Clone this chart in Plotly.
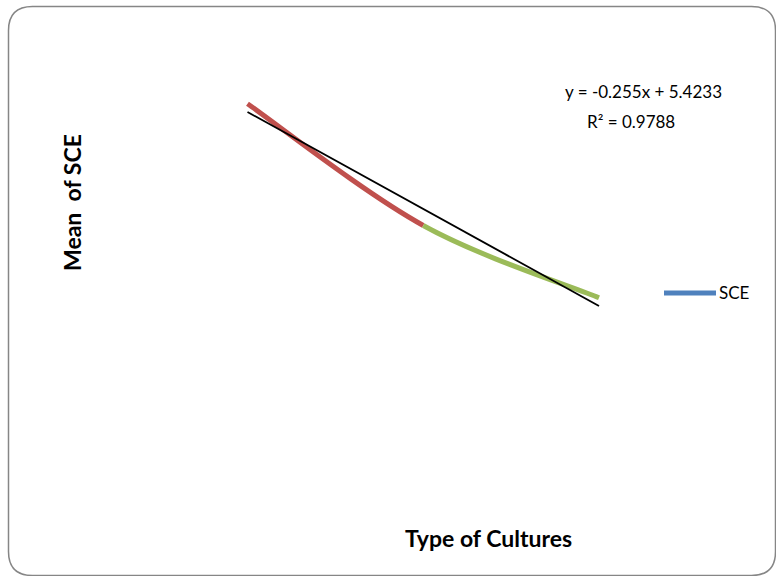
import numpy as np
import plotly.graph_objects as go

# Mean SCE for each culture type (categories plotted at positions 1..3)
categories = ["1", "2", "3"]
sce_means = [5.19, 4.87, 4.68]
segment_colors = ["#C0504D", "#9BBB59"]
series_name = "SCE"

x_pos = np.arange(1, len(sce_means) + 1, dtype=float)
y_val = np.array(sce_means, dtype=float)

# Least-squares trend line and its R^2
slope, intercept = np.polyfit(x_pos, y_val, 1)
fit = slope * x_pos + intercept
r2 = 1 - np.sum((y_val - fit) ** 2) / np.sum((y_val - y_val.mean()) ** 2)
eq_text = f"y = {slope:.3f}x + {intercept:.4f}"
r2_text = f"R² = {r2:.4f}"

W, H = 776, 576
ML, MR, MT, MB = 100, 126, 30, 86
PW, PH = W - ML - MR, H - MT - MB


def px(X):
    return (X - ML) / PW


def py(Y):
    return (H - MB - Y) / PH


fig = go.Figure()

# Trend line over the full category span
fig.add_trace(go.Scatter(
    x=[x_pos[0], x_pos[-1]],
    y=[slope * x_pos[0] + intercept, slope * x_pos[-1] + intercept],
    mode="lines", line=dict(color="black", width=1.8),
    showlegend=False, hoverinfo="skip",
))

# Smoothed series: cubic Bezier per segment, one colour per point
shapes = []
n = len(x_pos)
pts = list(zip(x_pos, y_val))
for i in range(n - 1):
    p0 = pts[i - 1] if i > 0 else pts[i]
    p1 = pts[i]
    p2 = pts[i + 1]
    p3 = pts[i + 2] if i + 2 < n else pts[i + 1]
    c1 = (p1[0] + (p2[0] - p0[0]) / 6, p1[1] + (p2[1] - p0[1]) / 6)
    c2 = (p2[0] - (p3[0] - p1[0]) / 6, p2[1] - (p3[1] - p1[1]) / 6)
    path = (f"M {p1[0]},{p1[1]} C {c1[0]},{c1[1]} {c2[0]},{c2[1]} "
            f"{p2[0]},{p2[1]}")
    shapes.append(dict(type="path", xref="x", yref="y", path=path,
                       line=dict(color=segment_colors[i], width=5),
                       layer="below"))

# Rounded chart border
L, T, R, B, r = 8.5, 6.5, 775.5, 575.5, 24


def P(X, Y):
    return f"{px(X)},{py(Y)}"


border = (f"M {P(L + r, T)} L {P(R - r, T)} Q {P(R, T)} {P(R, T + r)} "
          f"L {P(R, B - r)} Q {P(R, B)} {P(R - r, B)} "
          f"L {P(L + r, B)} Q {P(L, B)} {P(L, B - r)} "
          f"L {P(L, T + r)} Q {P(L, T)} {P(L + r, T)} Z")
shapes.append(dict(type="path", xref="paper", yref="paper", path=border,
                   line=dict(color="#868686", width=1.5)))

# Legend key
shapes.append(dict(type="line", xref="paper", yref="paper",
                   x0=px(664), x1=px(716), y0=py(293), y1=py(293),
                   line=dict(color="#4F81BD", width=5)))

font_reg = dict(family="Lato, Carlito, sans-serif", size=17, color="black")
font_bold = dict(family="Lato, Carlito, sans-serif", size=23, color="black")

annotations = [
    dict(text=series_name, x=px(717), y=py(293), xref="paper", yref="paper",
         xanchor="left", yanchor="middle", showarrow=False, font=font_reg),
    dict(text=eq_text, x=px(643), y=py(91), xref="paper", yref="paper",
         xanchor="center", yanchor="middle", showarrow=False, font=font_reg),
    dict(text=r2_text, x=px(631), y=py(122), xref="paper", yref="paper",
         xanchor="center", yanchor="middle", showarrow=False, font=font_reg),
    dict(text="<b>Type of Cultures</b>", x=px(488), y=py(538),
         xref="paper", yref="paper", xanchor="center", yanchor="middle",
         showarrow=False, font=font_bold),
    dict(text="<b>Mean  of SCE</b>", x=px(72), y=py(203), textangle=-90,
         xref="paper", yref="paper", xanchor="center", yanchor="middle",
         showarrow=False, font=font_bold),
]

axis_common = dict(showgrid=False, zeroline=False, showline=False,
                   showticklabels=False, ticks="", fixedrange=True)

fig.update_layout(
    width=W, height=H,
    margin=dict(l=ML, r=MR, t=MT, b=MB),
    paper_bgcolor="white", plot_bgcolor="white",
    showlegend=False,
    xaxis=dict(range=[0.1607, 3.2902], **axis_common),
    yaxis=dict(range=[4.1746, 5.3839], **axis_common),
    shapes=shapes,
    annotations=annotations,
)

fig.write_html("out.html")
